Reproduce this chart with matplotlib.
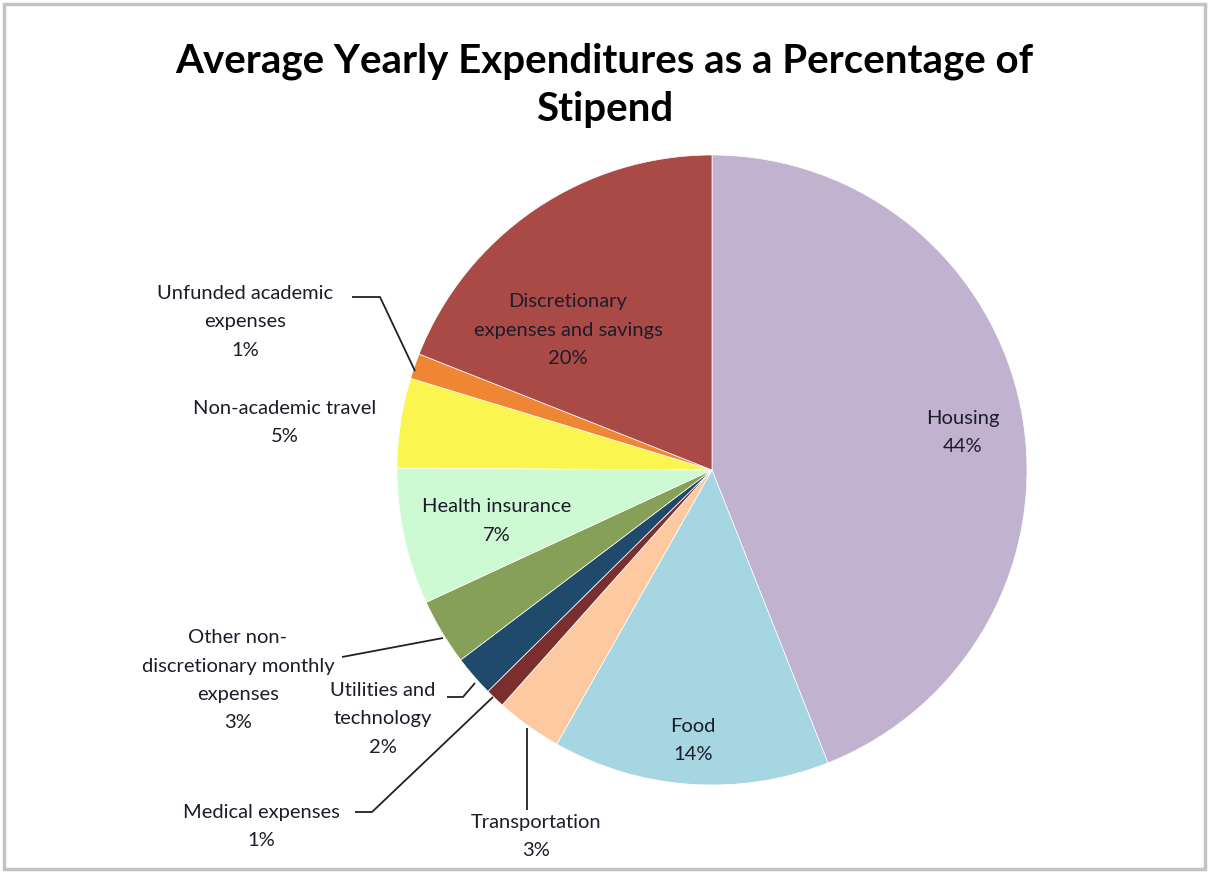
import matplotlib.pyplot as plt
from matplotlib.patches import Rectangle

plt.rcParams['font.family'] = ['Lato', 'DejaVu Sans']

# slices, clockwise from 12 o'clock
categories = ["Housing", "Food", "Transportation", "Medical expenses",
              "Utilities and\ntechnology", "Other non-\ndiscretionary monthly\nexpenses",
              "Health insurance", "Non-academic travel", "Unfunded academic\nexpenses",
              "Discretionary\nexpenses and savings"]
values = [44.0, 14.2, 3.4, 1.0, 2.1, 3.4, 7.0, 4.6, 1.3, 19.0]
pct_labels = ["44%", "14%", "3%", "1%", "2%", "3%", "7%", "5%", "1%", "20%"]
colors = ["#C1B2D0", "#A5D6E2", "#FCC9A1", "#7B2E2E", "#1F4A6B",
          "#86A057", "#CDFAD3", "#FAF64F", "#EF8633", "#A94A46"]

W, H = 1209, 873
fig = plt.figure(figsize=(W / 100, H / 100), dpi=100)

# pie placement (pixels): centre and radius
cx, cy, r = 712, 470, 315
ax = fig.add_axes([(cx - r) / W, (H - cy - r) / H, 2 * r / W, 2 * r / H])
ax.pie(values, colors=colors, startangle=90, counterclock=False, radius=1,
       wedgeprops=dict(linewidth=0.5, edgecolor="white"))
ax.set_xlim(-1, 1)
ax.set_ylim(-1, 1)
ax.set_aspect("equal")
ax.axis("off")

fs = 14.5
# label positions in pie units (inside / outside labels)
label_pos = [(0.797, 0.12), (-0.06, -0.86), (-0.559, -1.163), (-1.43, -1.133),
             (-1.045, -0.79), (-1.505, -0.667), (-0.683, -0.162), (-1.356, 0.152),
             (-1.483, 0.47), (-0.457, 0.444)]
for name, pct, (x, y) in zip(categories, pct_labels, label_pos):
    ax.text(x, y, name + "\n" + pct, ha="center", va="center", fontsize=fs,
            color="#1c1c2a", linespacing=1.8, clip_on=False)


def px(xp, yp):
    return ((xp - cx) / r, (cy - yp) / r)


# leader lines (pixel paths)
leaders = [
    [(352, 297), (380, 297), (415, 371)],   # unfunded
    [(342, 657), (443, 638)],               # other non-discretionary
    [(447, 697), (463, 697), (475, 683)],   # utilities
    [(355, 812), (372, 812), (493, 697)],   # medical
    [(527, 728), (527, 810)],               # transportation
]
for path in leaders:
    pts = [px(a, b) for a, b in path]
    ax.plot([p[0] for p in pts], [p[1] for p in pts], color="#222222", lw=1.3,
            clip_on=False, solid_capstyle="butt")

fig.text(0.5, 1 - 85 / H, "Average Yearly Expenditures as a Percentage of\nStipend",
         ha="center", va="center", fontsize=29, fontweight="bold", linespacing=1.35)

fig.patches.append(Rectangle((4 / W, 4 / H), 1 - 8 / W, 1 - 8 / H, transform=fig.transFigure,
                             fill=False, edgecolor="#c4c4c4", linewidth=2.5))

fig.savefig("out.png", dpi=100)
